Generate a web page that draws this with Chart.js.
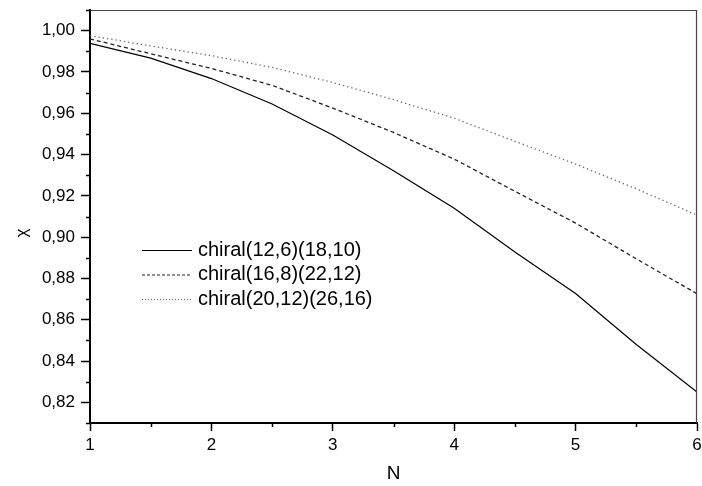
<!DOCTYPE html>
<html>
<head>
<meta charset="utf-8">
<script src="https://cdn.jsdelivr.net/npm/chart.js@4.4.1/dist/chart.umd.min.js"></script>
<style>
  body { margin: 0; background: #fff; }
  #wrap { width: 702px; height: 486px; }
</style>
</head>
<body>
<div id="wrap"><canvas id="chi" width="702" height="486"></canvas></div>
<script>
// N values along the x axis
const nValues = [1, 1.5, 2, 2.5, 3, 3.5, 4, 4.5, 5, 5.5, 6];

// chi for each structure
const chiral_12_6 = [0.9938, 0.9867, 0.9768, 0.9645, 0.9495, 0.9322, 0.9140, 0.8928, 0.8727, 0.8480, 0.8250];
const chiral_16_8 = [0.9960, 0.9888, 0.9817, 0.9735, 0.9625, 0.9507, 0.9378, 0.9222, 0.9068, 0.8895, 0.8726];
const chiral_20_12 = [0.9976, 0.9926, 0.9879, 0.9822, 0.9749, 0.9666, 0.9576, 0.9464, 0.9354, 0.9234, 0.9107];

const seriesNames = ['chiral(12,6)(18,10)', 'chiral(16,8)(22,12)', 'chiral(20,12)(26,16)'];

const FONT = "'Liberation Sans', Arial, sans-serif";

function toPoints(vals) {
  return vals.map((v, i) => ({ x: nValues[i], y: v }));
}

function isMajor(v, step) {
  return Math.abs(Math.round(v / step) * step - v) < 1e-6;
}

// short minor ticks + frame on top/right
const axisExtras = {
  id: 'axisExtras',
  afterDraw(chart) {
    const c = chart.ctx;
    const a = chart.chartArea;
    const xs = chart.scales.x, ys = chart.scales.y;
    c.save();
    c.strokeStyle = '#000';
    c.lineWidth = 1.5;
    c.beginPath();
    xs.ticks.forEach(t => {
      if (!isMajor(t.value, 1)) {
        const px = Math.round(xs.getPixelForValue(t.value)) + 0.5;
        c.moveTo(px, a.bottom);
        c.lineTo(px, a.bottom + 4);
      }
    });
    ys.ticks.forEach(t => {
      if (!isMajor(t.value, 0.02)) {
        const py = Math.round(ys.getPixelForValue(t.value)) + 0.5;
        c.moveTo(a.left, py);
        c.lineTo(a.left - 4, py);
      }
    });
    c.stroke();
    // frame
    c.strokeStyle = '#444';
    c.lineWidth = 1.2;
    c.beginPath();
    c.moveTo(a.left, a.top + 0.5);
    c.lineTo(a.right - 0.5, a.top + 0.5);
    c.lineTo(a.right - 0.5, a.bottom);
    c.stroke();
    c.restore();
  }
};

// legend inside plot area
const innerLegend = {
  id: 'innerLegend',
  afterDraw(chart) {
    const c = chart.ctx;
    c.save();
    c.font = '20px ' + FONT;
    c.textBaseline = 'middle';
    c.fillStyle = '#000';
    chart.data.datasets.forEach((ds, i) => {
      const y = 250 + i * 24.5;
      c.strokeStyle = ds.borderColor;
      c.lineWidth = 1;
      c.setLineDash(i === 0 ? [] : (i === 1 ? [3, 2] : [1, 2]));
      c.beginPath();
      c.moveTo(142, y + 0.5);
      c.lineTo(192, y + 0.5);
      c.stroke();
      c.setLineDash([]);
      c.fillText(ds.label, 198, y);
    });
    c.restore();
  }
};

new Chart(document.getElementById('chi'), {
  type: 'line',
  data: {
    datasets: [
      { label: seriesNames[0], data: toPoints(chiral_12_6), borderColor: '#000', borderWidth: 1.2 },
      { label: seriesNames[1], data: toPoints(chiral_16_8), borderColor: '#222', borderWidth: 1.3, borderDash: [4, 3] },
      { label: seriesNames[2], data: toPoints(chiral_20_12), borderColor: '#666', borderWidth: 1.3, borderDash: [1.3, 3] }
    ]
  },
  options: {
    responsive: false,
    animation: false,
    elements: { point: { radius: 0 }, line: { tension: 0 } },
    layout: { padding: { top: 10, right: 5, left: 0, bottom: 0 } },
    plugins: { legend: { display: false }, tooltip: { enabled: false } },
    scales: {
      x: {
        type: 'linear',
        min: 1, max: 6,
        afterFit(s) { s.height = 63; s.paddingLeft = 0; s.paddingRight = 0; },
        border: { color: '#000', width: 2 },
        grid: {
          drawOnChartArea: false,
          tickLength: 8,
          tickWidth: 1.5,
          color: ctx => (ctx.tick && isMajor(ctx.tick.value, 1)) ? '#000' : 'rgba(0,0,0,0)'
        },
        ticks: {
          stepSize: 0.5,
          color: '#000',
          padding: 4,
          maxRotation: 0,
          autoSkip: false,
          font: { family: FONT, size: 17 },
          callback: v => isMajor(v, 1) ? String(Math.round(v)) : ''
        },
        title: { display: true, text: 'N', color: '#000', font: { family: FONT, size: 19 }, padding: { top: 0, bottom: 1 } }
      },
      y: {
        min: 0.81, max: 1.01,
        afterFit(s) { s.width = 90; s.paddingTop = 0; s.paddingBottom = 0; },
        border: { color: '#000', width: 2 },
        grid: {
          drawOnChartArea: false,
          tickLength: 9,
          tickWidth: 1.5,
          color: ctx => (ctx.tick && isMajor(ctx.tick.value, 0.02)) ? '#000' : 'rgba(0,0,0,0)'
        },
        ticks: {
          stepSize: 0.01,
          color: '#000',
          padding: 6,
          autoSkip: false,
          font: { family: FONT, size: 17 },
          callback: v => isMajor(v, 0.02) ? v.toFixed(2).replace('.', ',') : ''
        },
        title: { display: true, text: 'χ       ', color: '#000', font: { family: FONT, size: 17 }, padding: { top: 12, bottom: 0 } }
      }
    }
  },
  plugins: [axisExtras, innerLegend]
});
</script>
</body>
</html>
